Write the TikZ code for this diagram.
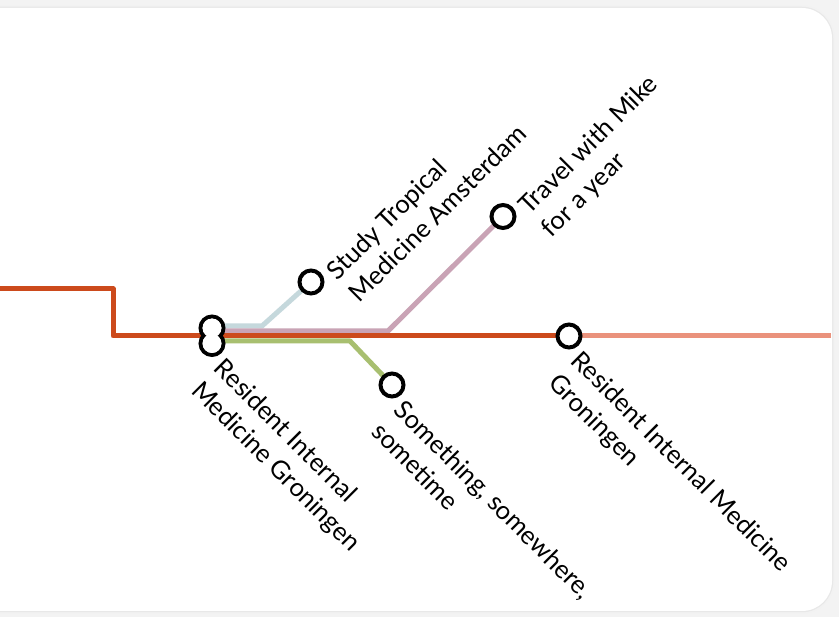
\documentclass[tikz,border=0pt]{standalone}
\usepackage{fontspec}
\setmainfont{Lato}
\usetikzlibrary{calc}
\definecolor{cred}{RGB}{204,74,28}
\definecolor{csalmon}{RGB}{234,146,124}
\definecolor{cblue}{RGB}{197,216,220}
\definecolor{cpink}{RGB}{201,163,181}
\definecolor{cgreen}{RGB}{168,191,112}
\definecolor{cbg}{RGB}{243,243,243}
\begin{document}
\begin{tikzpicture}[x=1pt,y=-1pt,
  metro/.style={line width=5pt, line join=round},
  station/.style={circle, draw=black, line width=4pt, fill=white, minimum size=23pt, inner sep=0pt},
  lblup/.style={rotate=45, anchor=north west, align=left, inner sep=0pt, font=\fontsize{25.5}{32}\selectfont},
  lbldown/.style={rotate=-45, anchor=north west, align=left, inner sep=0pt, font=\fontsize{25.5}{32}\selectfont}]
\useasboundingbox (0,0) rectangle (839,617);
% background and card
\fill[cbg] (0,0) rectangle (839,617);
\draw[rounded corners=30pt, line width=5pt, black!5] (-40,8) rectangle (832,611);
\draw[rounded corners=30pt, line width=2.5pt, black!9] (-40,8) rectangle (832,611);
\fill[white, rounded corners=30pt] (-40,8) rectangle (832,611);
% coordinates
\coordinate (w0) at (-5,289);
\coordinate (k1) at (113,289);
\coordinate (k2) at (113,336);
\coordinate (e0) at (569,336);
\coordinate (eR) at (831,336);
\coordinate (d1) at (212,328);
\coordinate (d2) at (212,343.5);
\coordinate (s1) at (311,282);
\coordinate (s2) at (503,216.5);
\coordinate (s3) at (392,385);
\coordinate (b0) at (212,326);
\coordinate (b1) at (262,326);
\coordinate (p0) at (212,331);
\coordinate (p1) at (388,331);
\coordinate (g0) at (212,341);
\coordinate (g1) at (350,341);
% lines
\draw[metro, csalmon] (e0) -- (eR);
\draw[metro, cblue] (b0) -- (b1) -- (s1);
\draw[metro, cpink] (p0) -- (p1) -- (s2);
\draw[metro, cgreen] (g0) -- (g1) -- (s3);
\draw[metro, cred] (w0) -- (k1) -- (k2) -- (e0);
% stations
\node[station] (n1) at (s1) {};
\node[station] (n2) at (s2) {};
\node[station] (n3) at (s3) {};
\node[station] (n4) at (e0) {};
\node[station] (m1) at (d1) {};
\node[station] (m2) at (d2) {};
\fill[white] (d1) circle (9.5pt) (d2) circle (9.5pt);
% labels
\node[lblup] (t1) at ($(s1)+(12.7,-14.1)$) {Study Tropical\\Medicine Amsterdam};
\node[lblup] (t2) at ($(s2)+(12.7,-14.1)$) {Travel with Mike\\for a year};
\node[lbldown] (t3) at ($(s3)+(14.1,12.7)$) {Something, somewhere,\\sometime};
\node[lbldown] (t4) at ($(d2)+(14.1,12.7)$) {Resident Internal\\Medicine Groningen};
\node[lbldown] (t5) at ($(e0)+(14.1,12.7)$) {Resident Internal Medicine\\Groningen};
\end{tikzpicture}
\end{document}
